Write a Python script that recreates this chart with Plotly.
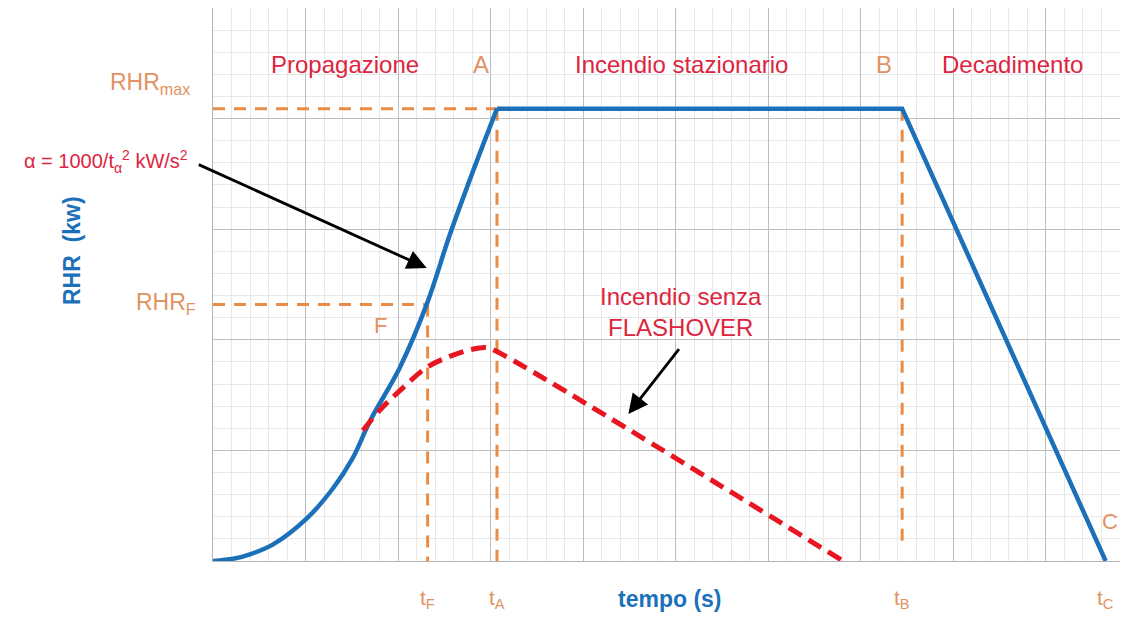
import plotly.graph_objects as go

# key points of the RHR curve (grid units)
t_F, RHR_F = 2.32, 2.32
t_A, t_B, t_C = 3.07, 7.45, 9.65
RHR_max = 4.09

# growth phase (t^2 shaped)
grow_t = [0.0, 0.22, 0.40, 0.65, 1.02, 1.30, 1.51, 1.70, 2.02, 2.31, 2.56, 2.80, t_A]
grow_q = [0.0, 0.02, 0.06, 0.15, 0.39, 0.66, 0.93, 1.27, 1.75, 2.32, 2.95, 3.50, RHR_max]

# fire without flashover
nf_t = [1.62, 1.81, 2.02, 2.31, 2.56, 2.78, 2.96, 3.10, 6.81]
nf_q = [1.18, 1.37, 1.54, 1.75, 1.85, 1.91, 1.93, 1.88, 0.0]

X_MAX, Y_MAX = 9.805, 5.0

BLUE = "rgb(28,112,186)"
ORANGE = "rgb(232,140,70)"
ORANGE_TXT = "rgb(226,146,98)"
RED = "rgb(232,22,32)"
RED_TXT = "rgb(222,36,62)"
FONT = "Liberation Sans, Arial, sans-serif"

fig = go.Figure()

# reference dashed lines
ref = dict(color=ORANGE, width=3, dash="12px,9px")
fig.add_trace(go.Scatter(x=[0, t_A], y=[RHR_max, RHR_max], mode="lines", line=ref))
fig.add_trace(go.Scatter(x=[0, t_F], y=[RHR_F, RHR_F], mode="lines", line=ref))
fig.add_trace(go.Scatter(x=[t_F, t_F], y=[RHR_F, 0], mode="lines", line=ref))
fig.add_trace(go.Scatter(x=[t_A, t_A], y=[RHR_max, 0], mode="lines", line=ref))
fig.add_trace(go.Scatter(x=[t_B, t_B], y=[RHR_max, 0.12], mode="lines", line=ref))

# main RHR curve: growth, then plateau and decay
fig.add_trace(go.Scatter(
    x=grow_t, y=grow_q, mode="lines", line_shape="spline",
    line=dict(color=BLUE, width=4.5)))
fig.add_trace(go.Scatter(
    x=[t_A, t_B, t_C], y=[RHR_max, RHR_max, 0],
    mode="lines", line=dict(color=BLUE, width=4.5)))

# no-flashover curve
fig.add_trace(go.Scatter(
    x=nf_t, y=nf_q, mode="lines", line_shape="spline",
    line=dict(color=RED, width=5, dash="15px,8px")))


def label(x, y, text, color, size=24, xref="x", yref="y", **kw):
    kw.setdefault("xanchor", "center")
    kw.setdefault("yanchor", "middle")
    fig.add_annotation(x=x, y=y, text=text, showarrow=False, xref=xref, yref=yref,
                       font=dict(family=FONT, size=size, color=color), **kw)


def px(x, y):
    # pixel position in the picture -> paper coords of the plot area
    return (x - 213) / 907, (560 - y) / 553


label(1.43, 4.49, "Propagazione", RED_TXT)
label(2.90, 4.49, "A", ORANGE_TXT)
label(5.06, 4.49, "Incendio stazionario", RED_TXT)
label(7.25, 4.49, "B", ORANGE_TXT)
label(8.64, 4.49, "Decadimento", RED_TXT)
label(1.81, 2.13, "F", ORANGE_TXT, size=22)
label(5.06, 2.25, "Incendio senza<br>FLASHOVER", RED_TXT, size=24)
label(X_MAX, 0.36, "C", ORANGE_TXT, size=22, xanchor="right")

# labels outside the plot area
x, y = px(192, 82)
label(x, y, "RHR<sub>max</sub>", ORANGE_TXT, size=23, xref="paper", yref="paper",
      xanchor="right")
x, y = px(190, 160)
label(x, y, "α = 1000/t<sub>α</sub><sup>2</sup> kW/s<sup>2</sup>", RED_TXT, size=20,
      xref="paper", yref="paper", xanchor="right")
x, y = px(198, 302)
label(x, y, "RHR<sub>F</sub>", ORANGE_TXT, size=23, xref="paper", yref="paper",
      xanchor="right")
for tt, name in [(t_F, "F"), (t_A, "A"), (t_B, "B"), (t_C, "C")]:
    label(tt, px(0, 613)[1], f"t<sub>{name}</sub>", ORANGE_TXT, size=21,
          yref="paper", yanchor="bottom")
x, y = px(670, 613)
label(x, y, "<b>tempo (s)</b>", BLUE, size=23, xref="paper", yref="paper",
      yanchor="bottom")
x, y = px(72, 250)
label(x, y, "<b>RHR  (kw)</b>", BLUE, size=23, xref="paper", yref="paper",
      textangle=-90)

# arrows
for (x0, y0, x1, y1) in [(-0.17, 3.59, 2.31, 2.65), (5.05, 1.93, 4.49, 1.33)]:
    fig.add_annotation(x=x1, y=y1, ax=x0, ay=y0, axref="x", ayref="y",
                       text="", showarrow=True, arrowhead=2, arrowsize=1.4,
                       arrowwidth=2.8, arrowcolor="black")

fig.update_xaxes(range=[0, X_MAX], dtick=1, showticklabels=False, ticks="",
                 showgrid=True, gridcolor="rgb(190,190,190)", gridwidth=1,
                 minor=dict(dtick=0.2, showgrid=True, gridcolor="rgb(232,232,232)"),
                 showline=True, linecolor="rgb(180,180,180)", mirror=True,
                 zeroline=False)
fig.update_yaxes(range=[0, Y_MAX], dtick=1, showticklabels=False, ticks="",
                 showgrid=True, gridcolor="rgb(190,190,190)", gridwidth=1,
                 minor=dict(dtick=0.2, showgrid=True, gridcolor="rgb(232,232,232)"),
                 showline=True, linecolor="rgb(180,180,180)",
                 zeroline=False)

# the page body has an 8px margin: size the figure to the visible area
fig.update_layout(
    width=1112, height=606,
    margin=dict(l=205, r=0, t=0, b=53),
    plot_bgcolor="white", paper_bgcolor="white",
    showlegend=False,
    font=dict(family=FONT),
)

fig.write_html("out.html")
